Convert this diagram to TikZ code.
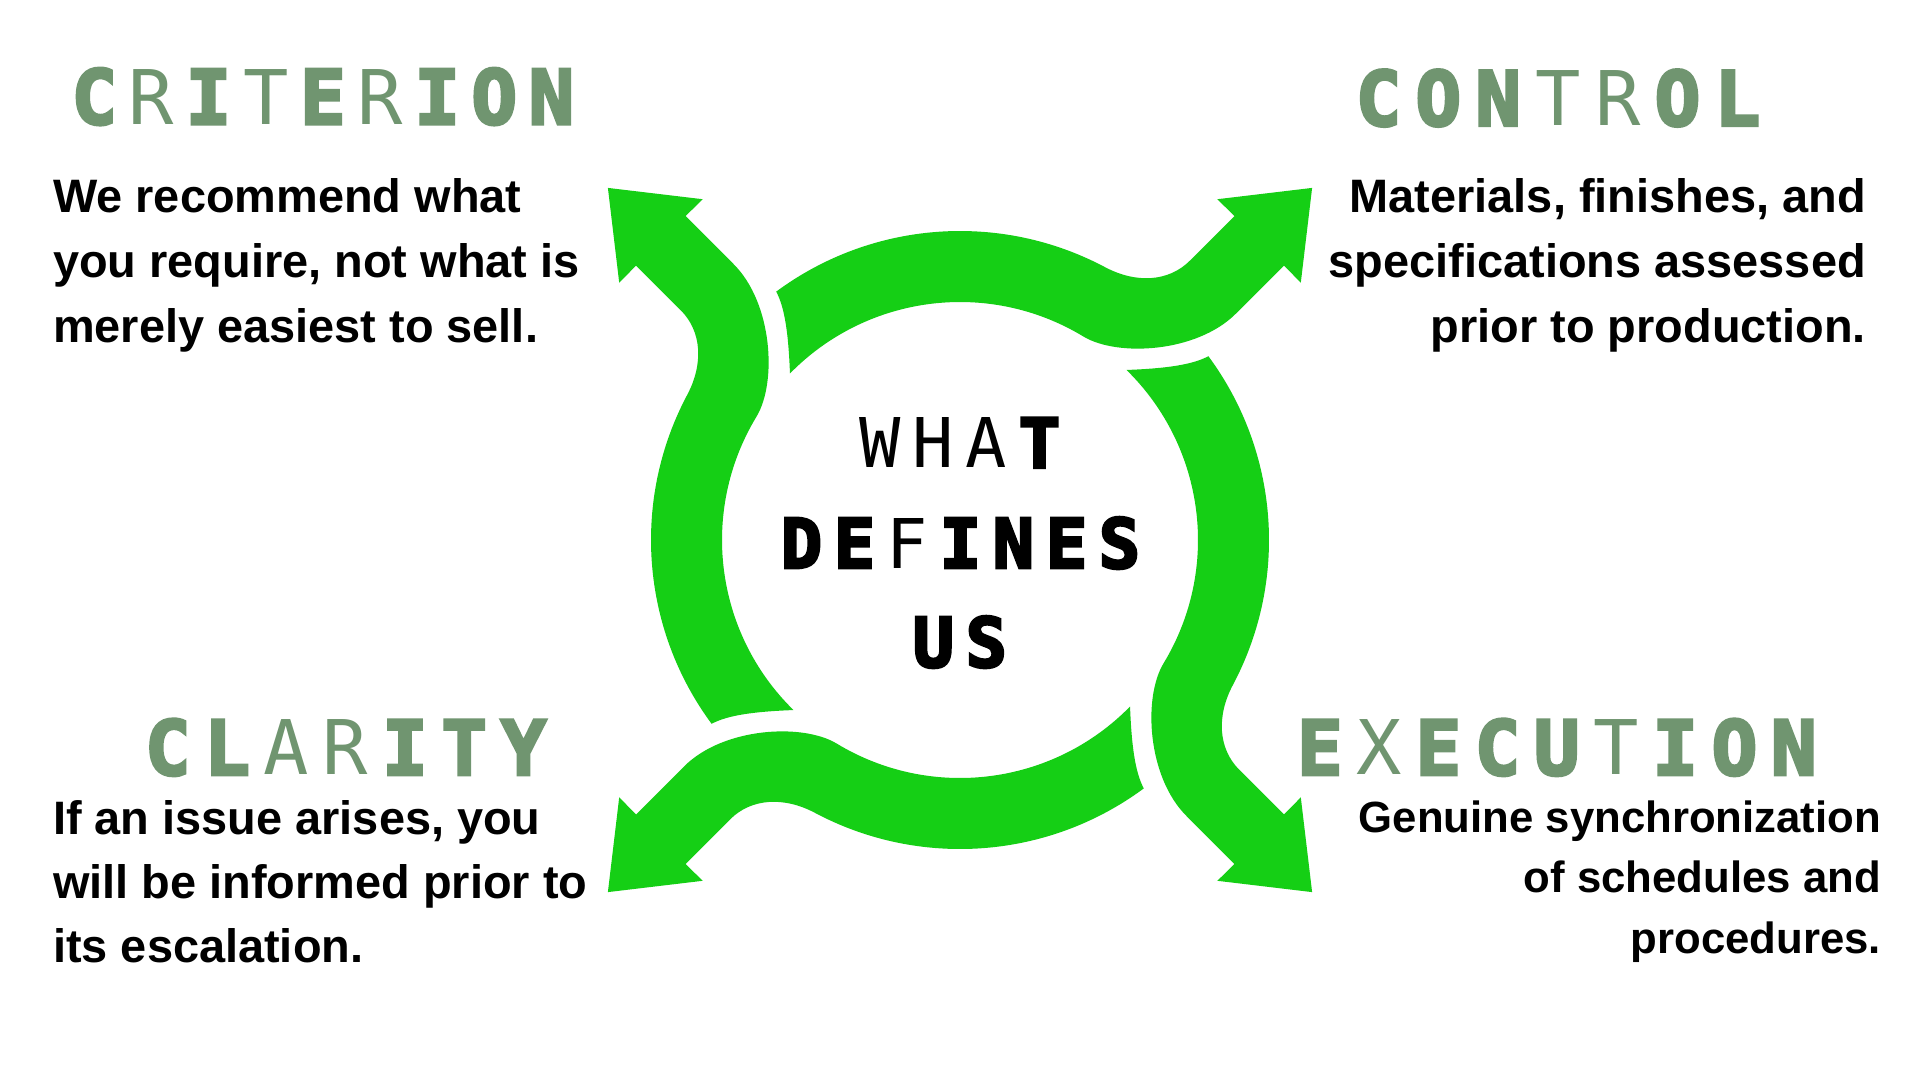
\documentclass[tikz,border=0pt]{standalone}
\usepackage{fontspec}
\setmainfont{Liberation Sans}
\newfontfamily\titlefont{DejaVu Sans Mono}[BoldFeatures={FakeBold=4}]
\definecolor{ringgreen}{RGB}{21,207,21}
\definecolor{titlegreen}{RGB}{112,149,112}
\newlength{\ltrw}
\newcommand{\ltrH}[1]{\makebox[\ltrw][c]{\bfseries #1}}
\newcommand{\ltrT}[1]{\makebox[\ltrw][c]{\mdseries #1}}
\tikzset{
  bodytext/.style={inner sep=0pt, text=black, font=\bfseries\fontsize{46.9}{65}\selectfont},
  bodysmall/.style={inner sep=0pt, text=black, font=\bfseries\fontsize{43.7}{61}\selectfont},
  titletext/.style={inner sep=0pt, anchor=base, text=titlegreen, font=\titlefont\fontsize{75.4}{75.4}\selectfont},
  centretext/.style={inner sep=0pt, anchor=base, text=black, font=\titlefont\fontsize{68.6}{68.6}\selectfont},
  ringpiece/.pic={
    \fill[ringgreen] (126.5:309) arc[start angle=126.5, end angle=62, radius=309]
      .. controls (176,256.4) and (208.6,258.1) .. (229.8,279.3)
      -- (274.4,323.9) -- (257.4,340.8) -- (352.1,352.1) -- (340.8,257.4)
      -- (323.9,274.4) -- (275.8,226.3)
      .. controls (236.9,187.4) and (157.5,182.8) .. (58.8:238)
      arc[start angle=58.8, end angle=135.6, radius=238]
      .. controls (-171.5,205) and (-175,232) .. (126.5:309) -- cycle;
  }
}
\begin{document}
\begin{tikzpicture}[x=1pt,y=1pt]
\useasboundingbox (0,0) rectangle (1920,-1080);
\fill[white] (0,0) rectangle (1920,-1080);
\coordinate (ctr) at (960,-540);
% ring of four arrows
\pic[rotate=0] at (ctr) {ringpiece};
\pic[rotate=-90] at (ctr) {ringpiece};
\pic[rotate=180] at (ctr) {ringpiece};
\pic[rotate=90] at (ctr) {ringpiece};
% centre text
\node[centretext] (what) at (960,-467.7) {\setlength{\ltrw}{53pt}\ltrT{W}\ltrT{H}\ltrT{A}\ltrH{T}};
\node[centretext] (defines) at (960.5,-568) {\setlength{\ltrw}{53pt}\ltrH{D}\ltrH{E}\ltrT{F}\ltrH{I}\ltrH{N}\ltrH{E}\ltrH{S}};
\node[centretext] (us) at (959.8,-667) {\setlength{\ltrw}{53pt}\ltrH{U}\ltrH{S}};
% titles
\node[titletext] (crit) at (322.9,-124) {\setlength{\ltrw}{57.15pt}\ltrH{C}\ltrT{R}\ltrH{I}\ltrT{T}\ltrH{E}\ltrT{R}\ltrH{I}\ltrH{O}\ltrH{N}};
\node[titletext] (ctrl) at (1557.9,-125.5) {\setlength{\ltrw}{59.8pt}\ltrH{C}\ltrH{O}\ltrH{N}\ltrT{T}\ltrT{R}\ltrH{O}\ltrH{L}};
\node[titletext] (clar) at (345.7,-774.8) {\setlength{\ltrw}{59.3pt}\ltrH{C}\ltrH{L}\ltrT{A}\ltrT{R}\ltrH{I}\ltrH{T}\ltrH{Y}};
\node[titletext] (exec) at (1556.8,-774.8) {\setlength{\ltrw}{59.25pt}\ltrH{E}\ltrT{X}\ltrH{E}\ltrH{C}\ltrH{U}\ltrT{T}\ltrH{I}\ltrH{O}\ltrH{N}};
% body texts
\node[bodytext, anchor=base west] (crita) at (53,-212) {We recommend what};
\node[bodytext, anchor=base west] (critb) at (53,-277) {you require, not what is};
\node[bodytext, anchor=base west] (critc) at (53,-342) {merely easiest to sell.};
\node[bodytext, anchor=base east] (ctrla) at (1866,-212) {Materials, finishes, and};
\node[bodytext, anchor=base east] (ctrlb) at (1866,-277) {specifications assessed};
\node[bodytext, anchor=base east] (ctrlc) at (1866,-342.5) {prior to production.};
\node[bodytext, anchor=base west] (clara) at (53,-834.4) {If an issue arises, you};
\node[bodytext, anchor=base west] (clarb) at (53,-898.1) {will be informed prior to};
\node[bodytext, anchor=base west] (clarc) at (53,-962.9) {its escalation.};
\node[bodysmall, anchor=base east] (execa) at (1881,-832) {Genuine synchronization};
\node[bodysmall, anchor=base east] (execb) at (1881,-892.3) {of schedules and};
\node[bodysmall, anchor=base east] (execc) at (1881,-953.2) {procedures.};
\end{tikzpicture}
\end{document}
